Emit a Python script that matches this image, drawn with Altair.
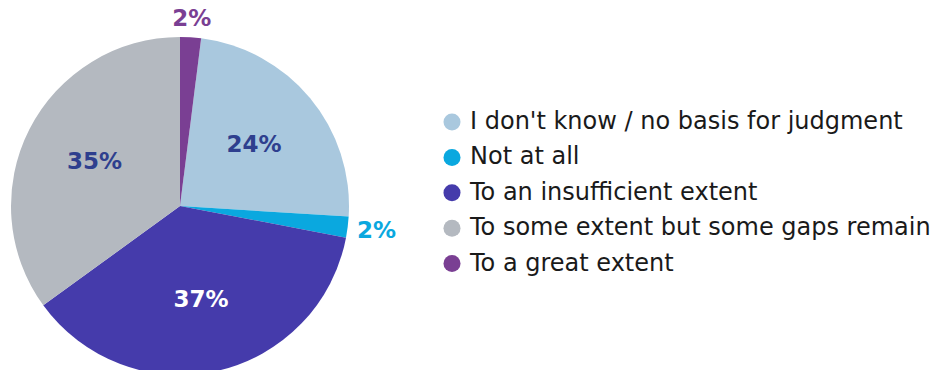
import altair as alt
import pandas as pd

categories = [
    "I don't know / no basis for judgment",
    "Not at all",
    "To an insufficient extent",
    "To some extent but some gaps remain",
    "To a great extent",
]
values = [24, 2, 37, 35, 2]
pie_order = [2, 3, 4, 5, 1]
slice_colors = ["#a9c8de", "#0aa8df", "#453bab", "#b4b9c0", "#7a3f93"]
label_colors = ["#2e3f8e", "#0aa8df", "#ffffff", "#2e3f8e", "#7a3f93"]

df = pd.DataFrame({"category": categories, "value": values, "order": pie_order})
df["label"] = df["value"].astype(str) + "%"

FONT = "DejaVu Sans"
cx, cy, R = 180, 206, 169

base = (
    alt.Chart(df)
    .transform_window(cum="sum(value)", sort=[alt.SortField("order")], frame=[None, 0])
    .transform_joinaggregate(total="sum(value)")
    .transform_calculate(mid="2 * PI * (datum.cum - datum.value / 2) / datum.total")
    .encode(x=alt.value(cx), y=alt.value(cy))
)

arcs = alt.Chart(df).mark_arc(outerRadius=R).encode(
    theta=alt.Theta("value:Q", stack=True),
    order=alt.Order("order:Q"),
    x=alt.value(cx),
    y=alt.value(cy),
    color=alt.Color(
        "category:N",
        sort=categories,
        scale=alt.Scale(domain=categories, range=slice_colors),
        legend=alt.Legend(
            title=None,
            orient="none",
            legendX=440,
            legendY=110,
            symbolType="circle",
            symbolSize=290,
            symbolStrokeWidth=0,
            labelFont=FONT,
            labelFontSize=24,
            labelColor="#1a1a1a",
            labelOffset=6,
            rowPadding=11.4,
            labelLimit=600,
        ),
    ),
)

text_color = alt.Color(
    "category:N",
    scale=alt.Scale(domain=categories, range=label_colors),
    legend=None,
)


def label_layer(cond, radius):
    return (
        base.transform_filter(cond)
        .mark_text(radius=radius, font=FONT, fontSize=23, fontWeight="bold")
        .encode(
            theta=alt.Theta("mid:Q", scale=None),
            text="label:N",
            color=text_color,
        )
    )


inside = label_layer("datum.value > 5", 96)
outside_top = label_layer("datum.value <= 5 && datum.mid < 1", 187)
outside_right = label_layer("datum.value <= 5 && datum.mid >= 1", 198)

labels = alt.layer(inside, outside_top, outside_right)

chart = (
    alt.layer(arcs, labels)
    .resolve_scale(color="independent")
    .properties(width=948, height=370, padding=0, autosize=alt.AutoSizeParams(type="none"))
    .configure_view(stroke=None)
)

chart.save("out.html", embed_options={"renderer": "svg", "actions": False})
